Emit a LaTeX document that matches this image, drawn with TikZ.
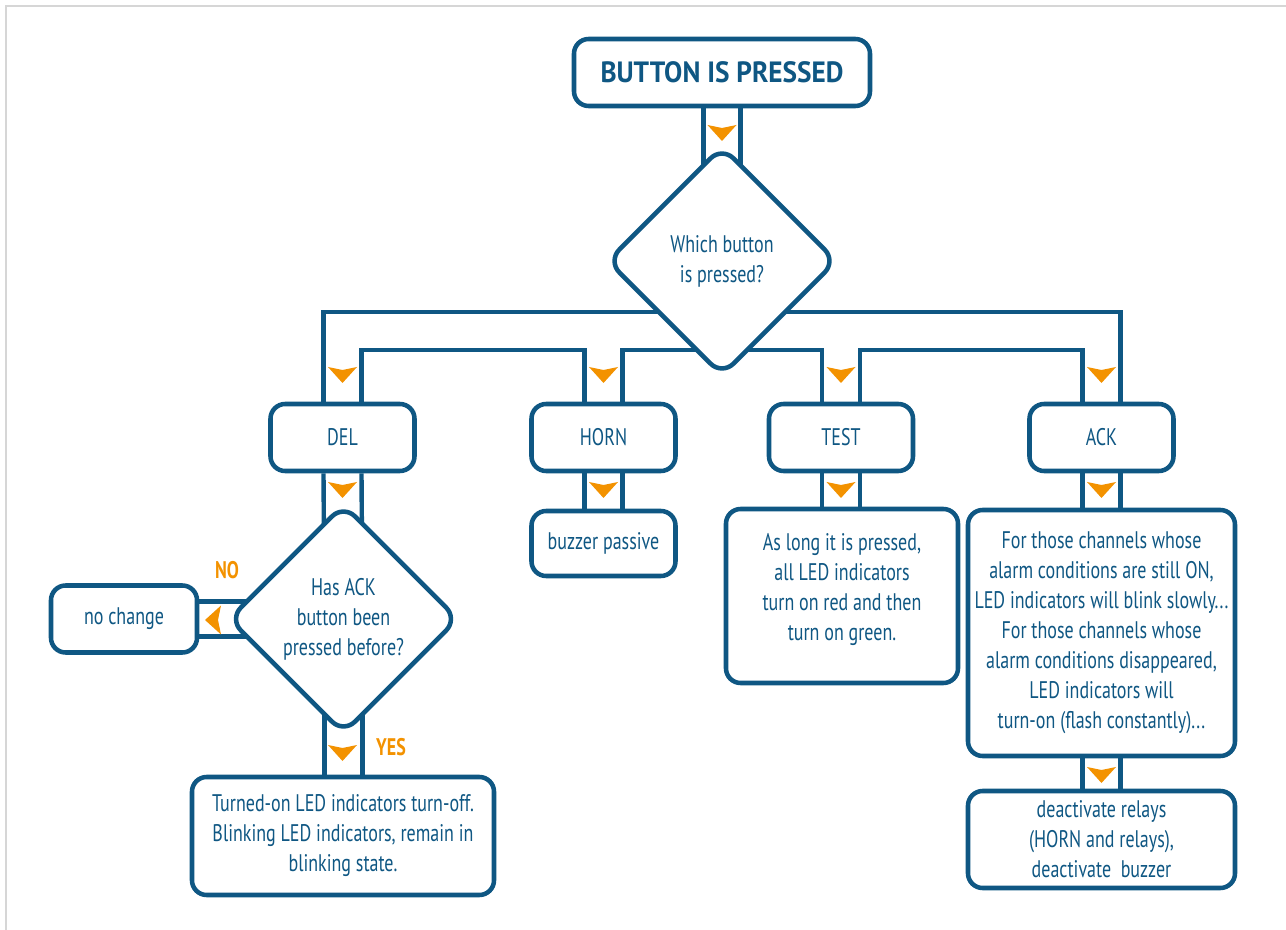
\documentclass[tikz,border=0pt]{standalone}
\usepackage{fontspec}
\setmainfont{PT Sans}[FakeStretch=0.75]
\newfontfamily\titlefont{PT Sans}[FakeStretch=0.93]
\usetikzlibrary{shapes.geometric,calc}
\definecolor{dblue}{HTML}{0F5783}
\definecolor{orng}{HTML}{F39200}
\definecolor{framegray}{HTML}{D6D6D6}
\newdimen\px \px=0.75pt
\pgfdeclarelayer{bg}
\pgfsetlayers{bg,main}
\tikzset{
  boxnode/.style={draw=dblue, line width=3.4pt, rounded corners=11pt, fill=white, text=dblue, align=center, inner sep=0pt, font=\fontsize{18}{22.5}\selectfont},
  decision/.style={boxnode, shape=diamond, aspect=1, minimum width=230\px, minimum height=230\px, rounded corners=12pt},
  txt/.style={text=dblue, align=center, inner sep=0pt, font=\fontsize{18}{22.5}\selectfont},
  pipe/.style={draw=dblue, line width=3.3pt},
  lbl/.style={text=orng, inner sep=0pt, font=\fontsize{18}{20}\selectfont\bfseries},
  tridown/.pic={\fill[orng] (-14.5,-8) -- (0,-5) -- (14.5,-8) -- (0,8) -- cycle;},
  trileft/.pic={\fill[orng] (8,-14.5) -- (5,0) -- (8,14.5) -- (-8,0) -- cycle;},
}
\begin{document}
\begin{tikzpicture}[x=0.75pt,y=-0.75pt]
\useasboundingbox (0,0) rectangle (1286,930);
\draw[framegray, line width=1.5pt] (6,935) -- (6,6) -- (1292,6);

\node[boxnode, minimum width=296\px, minimum height=67\px, font=\fontsize{22}{26}\titlefont\bfseries] (start) at (722,72.5) {BUTTON IS PRESSED};
\node[decision] (q1) at (722,261) {Which button\\is pressed?};
\node[boxnode, minimum width=144\px, minimum height=67\px] (del) at (342.5,437.5) {DEL};
\node[boxnode, minimum width=144\px, minimum height=67\px] (horn) at (603.5,437.5) {HORN};
\node[boxnode, minimum width=144\px, minimum height=67\px] (test) at (841,437.5) {TEST};
\node[boxnode, minimum width=144\px, minimum height=67\px] (ack) at (1101.5,437.5) {ACK};
\node[boxnode, minimum width=144\px, minimum height=65\px] (buzz) at (603.5,543.5) {buzzer passive};
\node[boxnode, minimum width=232\px, minimum height=174\px] (testbox) at (842,596) {};
\node[txt] (testtxt) at (842,590) {As long it is pressed,\\all LED indicators\\turn on red and then\\turn on green.};
\node[boxnode, minimum width=267\px, minimum height=246\px] (ackbox) at (1101.5,633) {};
\node[txt] (acktxt) at (1101.5,633) {For those channels whose\\alarm conditions are still ON,\\LED indicators will blink slowly...\\For those channels whose\\alarm conditions disappeared,\\LED indicators will\\turn-on (flash constantly)...};
\node[boxnode, minimum width=267\px, minimum height=97\px] (deact) at (1101.5,839.5) {deactivate relays\\(HORN and relays),\\deactivate\ \ buzzer};
\node[decision] (q2) at (343.5,619) {Has ACK\\button been\\pressed before?};
\node[boxnode, minimum width=146\px, minimum height=67\px] (nochg) at (124,619) {no change};
\node[boxnode, minimum width=302\px, minimum height=118\px] (final) at (343,836) {Turned-on LED indicators turn-off.\\Blinking LED indicators, remain in\\blinking state.};
\node[lbl] (no) at (227,570) {NO};
\node[lbl] (yes) at (391,747) {YES};

\coordinate (bo) at (722,312);
\coordinate (bi) at (722,350);

\begin{pgfonlayer}{bg}
\draw[pipe] ($(start.south)+(-18.5,0)$) -- ($(q1.center)+(-18.5,0)$);
\draw[pipe] ($(start.south)+(18.5,0)$) -- ($(q1.center)+(18.5,0)$);
\draw[pipe] ($(del.north)+(-19,0)$) |- (bo) -| ($(ack.north)+(19,0)$);
\draw[pipe] ($(del.north)+(19,0)$) |- ($(bi -| horn.north)+(-19,0)$) -- ($(horn.north)+(-19,0)$);
\draw[pipe] ($(horn.north)+(19,0)$) |- ($(bi -| test.north)+(-19,0)$) -- ($(test.north)+(-19,0)$);
\draw[pipe] ($(test.north)+(19,0)$) |- ($(bi -| ack.north)+(-19,0)$) -- ($(ack.north)+(-19,0)$);
\foreach \s in {-19,19}{
  \draw[pipe] ($(del.south)+(\s,0)$) -- ($(q2.center)+(\s,0)$);
  \draw[pipe] ($(horn.south)+(\s,0)$) -- ($(buzz.north)+(\s,0)$);
  \draw[pipe] ($(test.south)+(\s,0)$) -- ($(test.south |- testbox.north)+(\s,0)$);
  \draw[pipe] ($(ack.south)+(\s,0)$) -- ($(ackbox.north)+(\s,0)$);
  \draw[pipe] ($(ackbox.south)+(\s,0)$) -- ($(deact.north)+(\s,0)$);
  \draw[pipe] ($(q2.center)+(\s,0)$) -- ($(q2.center |- final.north)+(\s,0)$);
}
\draw[pipe] ($(nochg.east)+(0,-17.5)$) -- ($(q2.center)+(0,-17.5)$);
\draw[pipe] ($(nochg.east)+(0,17.5)$) -- ($(q2.center)+(0,17.5)$);
\end{pgfonlayer}

\pic at (722,133) {tridown};
\pic at (342.5,375) {tridown};
\pic at (603.5,375) {tridown};
\pic at (841,375) {tridown};
\pic at (1101.5,375) {tridown};
\pic at (342.5,490) {tridown};
\pic at (603.5,490) {tridown};
\pic at (841,490) {tridown};
\pic at (1101.5,490) {tridown};
\pic at (342.5,753) {tridown};
\pic at (1101.5,775) {tridown};
\pic at (213,620) {trileft};
\end{tikzpicture}
\end{document}
